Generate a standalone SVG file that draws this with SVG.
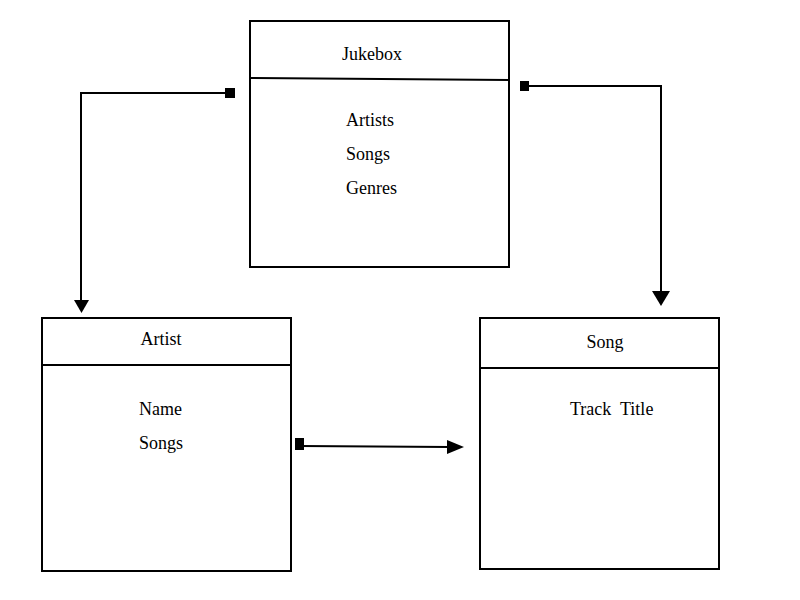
<svg xmlns="http://www.w3.org/2000/svg" width="800" height="600" viewBox="0 0 800 600">
<style>
.box{fill:#fff;stroke:#000;stroke-width:2}
.div{stroke:#000;stroke-width:2;fill:none}
.t{font-family:"Liberation Serif","DejaVu Serif",serif;font-size:18px;fill:#000}
.c{stroke:#000;stroke-width:2;fill:none}
.sq{fill:#000}
.ah{fill:#000}
</style>
<rect width="800" height="600" fill="#fff"/>
<g id="jukebox">
<rect class="box" x="250" y="21" width="259" height="246"/>
<line class="div" x1="250" y1="78" x2="509" y2="80"/>
<text class="t" x="372" y="60" text-anchor="middle">Jukebox</text>
<text class="t" x="346" y="126">Artists</text>
<text class="t" x="346" y="160">Songs</text>
<text class="t" x="346" y="194">Genres</text>
</g>
<g id="artist">
<rect class="box" x="42" y="318" width="249" height="253"/>
<line class="div" x1="42" y1="365" x2="291" y2="365"/>
<text class="t" x="161" y="345" text-anchor="middle">Artist</text>
<text class="t" x="139" y="415">Name</text>
<text class="t" x="139" y="449">Songs</text>
</g>
<g id="song">
<rect class="box" x="480" y="318" width="239" height="251"/>
<line class="div" x1="480" y1="368" x2="719" y2="368"/>
<text class="t" x="605" y="348" text-anchor="middle">Song</text>
<text class="t" x="570" y="415" xml:space="preserve">Track  Title</text>
</g>
<g id="connectors">
<polyline class="c" points="230,93 81,93 81,302"/>
<rect class="sq" x="225" y="88" width="10" height="10"/>
<polygon class="ah" points="74,300 89,300 81.5,313"/>
<polyline class="c" points="524,86 661,86 661,293"/>
<rect class="sq" x="520" y="81" width="9" height="10"/>
<polygon class="ah" points="652,291 670,291 661,306"/>
<line class="c" x1="300" y1="446" x2="450" y2="447"/>
<rect class="sq" x="295" y="438" width="9" height="12"/>
<polygon class="ah" points="447,440 447,454 464,447"/>
</g>
</svg>
